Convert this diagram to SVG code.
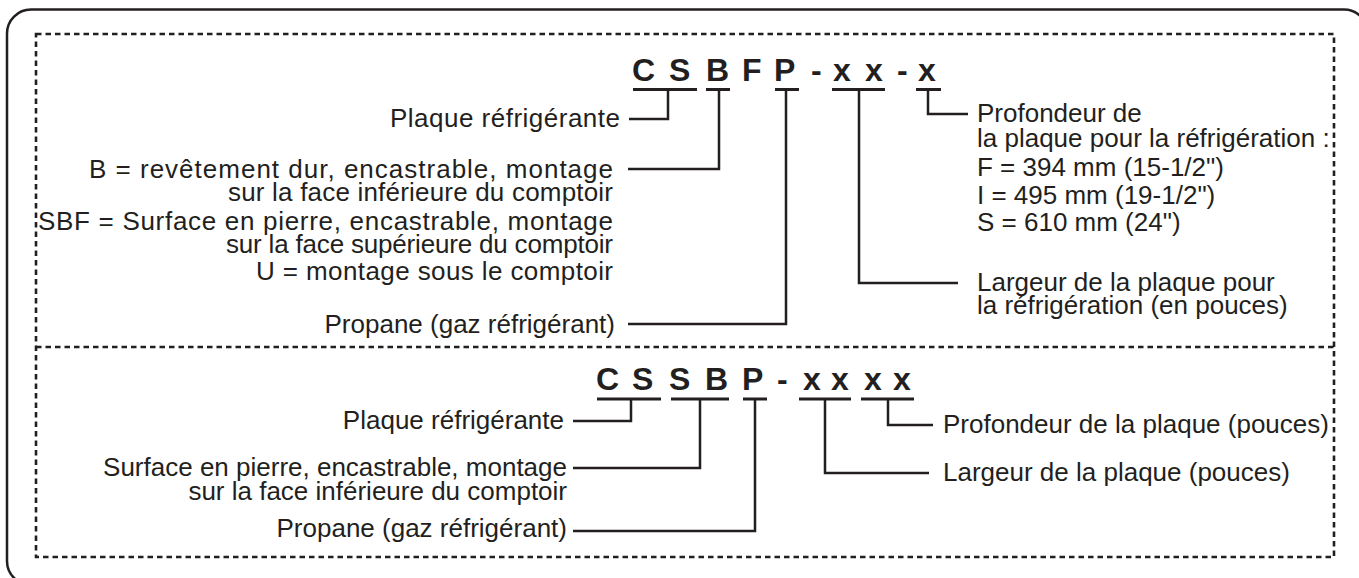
<svg xmlns="http://www.w3.org/2000/svg" width="1359" height="578" viewBox="0 0 1359 578">
<style>
.t{font-family:"Liberation Sans",Arial,sans-serif;font-size:26px;fill:#231f20}
.r{text-anchor:end}
.code{font-family:"Liberation Sans",Arial,sans-serif;font-size:32px;font-weight:bold;fill:#231f20}
.ln{fill:none;stroke:#231f20;stroke-width:2.5}
.ul{fill:none;stroke:#231f20;stroke-width:3}
.dash{fill:none;stroke:#231f20;stroke-width:2.6;stroke-dasharray:5.5 4}
</style>
<rect x="7" y="9.5" width="1361" height="575.5" rx="24" fill="#fff" stroke="#231f20" stroke-width="2.5"/>
<rect class="dash" x="36" y="34" width="1298" height="523"/>
<line class="dash" x1="36" y1="347" x2="1334" y2="347"/>

<g id="code-top">
<text class="code" x="632 669 706 742 774 811 833 865 897 918" y="81">CSBFP-xx-x</text>
<path class="ul" d="M633 89.5H697M706 89.5H730M775 89.5H799M832 89.5H885M916 89.5H941"/>
</g>
<g id="code-bottom">
<text class="code" x="596 632 669 705 742 777 803 831 864 893" y="390">CSSBP-xxxx</text>
<path class="ul" d="M597 399H661M671 399H729M743 399H767M799 399H851M861 399H914"/>
</g>

<g id="connectors">
<path class="ln" d="M668 89.5V119H629"/>
<path class="ln" d="M719 89.5V169H628"/>
<path class="ln" d="M786 89.5V324H628"/>
<path class="ln" d="M859 89.5V283H958"/>
<path class="ln" d="M928 89.5V114H968"/>
<path class="ln" d="M631 399V421H573"/>
<path class="ln" d="M700 399V468H573"/>
<path class="ln" d="M755 399V531H573"/>
<path class="ln" d="M825 399V473H929"/>
<path class="ln" d="M888 399V425H933"/>
</g>

<g id="top-left-labels">
<text class="t r" x="620" y="127" textLength="230" lengthAdjust="spacing">Plaque réfrigérante</text>
<text class="t r" x="613" y="178" textLength="524" lengthAdjust="spacing">B = revêtement dur, encastrable, montage</text>
<text class="t r" x="613" y="201" textLength="385" lengthAdjust="spacing">sur la face inférieure du comptoir</text>
<text class="t r" x="613" y="230" textLength="575" lengthAdjust="spacing">SBF = Surface en pierre, encastrable, montage</text>
<text class="t r" x="613" y="253" textLength="387" lengthAdjust="spacing">sur la face supérieure du comptoir</text>
<text class="t r" x="613" y="280" textLength="357" lengthAdjust="spacing">U = montage sous le comptoir</text>
<text class="t r" x="615" y="333">Propane (gaz réfrigérant)</text>
</g>
<g id="top-right-labels">
<text class="t" x="977" y="122">Profondeur de</text>
<text class="t" x="977" y="147">la plaque pour la réfrigération :</text>
<text class="t" x="977" y="176">F = 394 mm (15-1/2")</text>
<text class="t" x="977" y="204">I = 495 mm (19-1/2")</text>
<text class="t" x="977" y="231">S = 610 mm (24")</text>
<text class="t" x="977" y="291">Largeur de la plaque pour</text>
<text class="t" x="977" y="314">la réfrigération (en pouces)</text>
</g>
<g id="bottom-left-labels">
<text class="t r" x="564" y="429">Plaque réfrigérante</text>
<text class="t r" x="567" y="476">Surface en pierre, encastrable, montage</text>
<text class="t r" x="567" y="500">sur la face inférieure du comptoir</text>
<text class="t r" x="567" y="537">Propane (gaz réfrigérant)</text>
</g>
<g id="bottom-right-labels">
<text class="t" x="943" y="433">Profondeur de la plaque (pouces)</text>
<text class="t" x="943" y="481">Largeur de la plaque (pouces)</text>
</g>
</svg>
